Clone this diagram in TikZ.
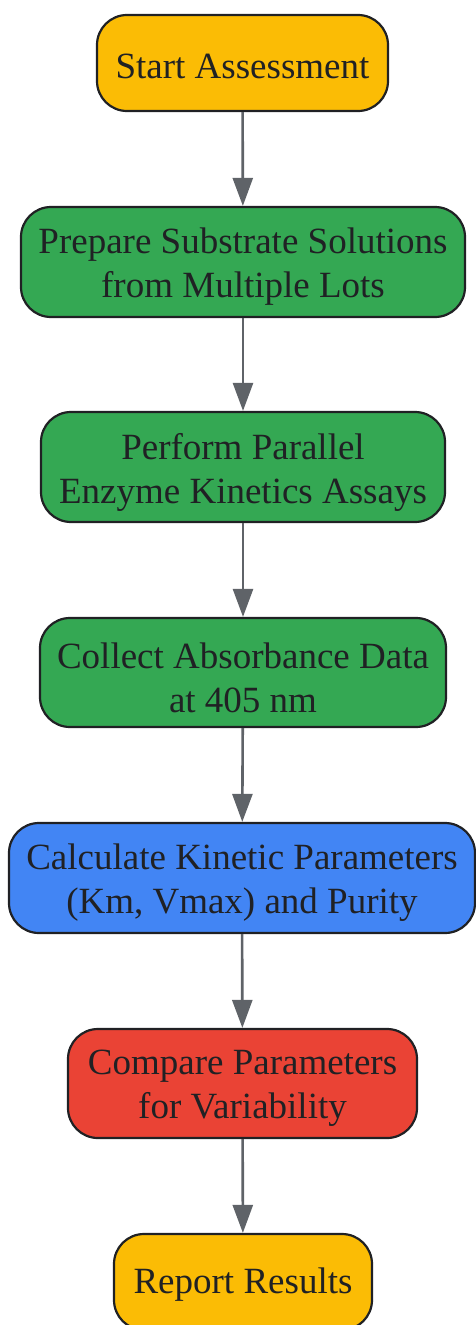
\documentclass[tikz,border=0pt]{standalone}
\usepackage{fontspec}
\setmainfont{Liberation Serif}
\usetikzlibrary{arrows.meta}
\definecolor{cyellow}{HTML}{FBBC05}
\definecolor{cgreen}{HTML}{34A853}
\definecolor{cblue}{HTML}{4285F4}
\definecolor{cred}{HTML}{EA4335}
\definecolor{ctext}{HTML}{202124}
\definecolor{carrow}{HTML}{5F6368}
\tikzset{
  box/.style={draw=ctext, line width=2.2pt, rounded corners=30pt, inner sep=0pt},
  lbl/.style={align=center, text=ctext, font=\fontsize{37}{44}\selectfont, inner sep=0pt},
  flow/.style={draw=carrow, line width=2.6pt, -{Triangle[length=28pt,width=20pt]}}
}
\begin{document}
\begin{tikzpicture}[x=1pt,y=-1pt]
\useasboundingbox (0,0) rectangle (475,1325);
\node[box, fill=cyellow, minimum width=291pt, minimum height=96pt] (n1) at (242.5,63) {};
\node[box, fill=cgreen, minimum width=444pt, minimum height=110pt] (n2) at (243,262) {};
\node[box, fill=cgreen, minimum width=404pt, minimum height=110pt] (n3) at (243,467) {};
\node[box, fill=cgreen, minimum width=406pt, minimum height=109pt] (n4) at (243,672.5) {};
\node[box, fill=cblue, minimum width=466pt, minimum height=110pt] (n5) at (242,878) {};
\node[box, fill=cred, minimum width=349pt, minimum height=109pt] (n6) at (242.5,1083.5) {};
\node[box, fill=cyellow, minimum width=258pt, minimum height=96pt] (n7) at (243,1282) {};
\node[lbl] (t1) at ([yshift=-3pt]n1.center) {Start Assessment};
\node[lbl] (t2) at ([yshift=-5pt]n2.center) {Prepare Substrate Solutions\\from Multiple Lots};
\node[lbl] (t3) at ([yshift=-5pt]n3.center) {Perform Parallel\\Enzyme Kinetics Assays};
\node[lbl] (t4) at ([yshift=-5pt]n4.center) {Collect Absorbance Data\\at 405 nm};
\node[lbl] (t5) at ([yshift=-5pt]n5.center) {Calculate Kinetic Parameters\\(Km, Vmax) and Purity};
\node[lbl] (t6) at ([yshift=-5pt]n6.center) {Compare Parameters\\for Variability};
\node[lbl] (t7) at ([yshift=-3pt]n7.center) {Report Results};
\draw[flow] (n1) -- (n2);
\draw[flow] (n2) -- (n3);
\draw[flow] (n3) -- (n4);
\draw[flow] (n4) -- (n5);
\draw[flow] (n5) -- (n6);
\draw[flow] (n6) -- (n7);
\end{tikzpicture}
\end{document}
